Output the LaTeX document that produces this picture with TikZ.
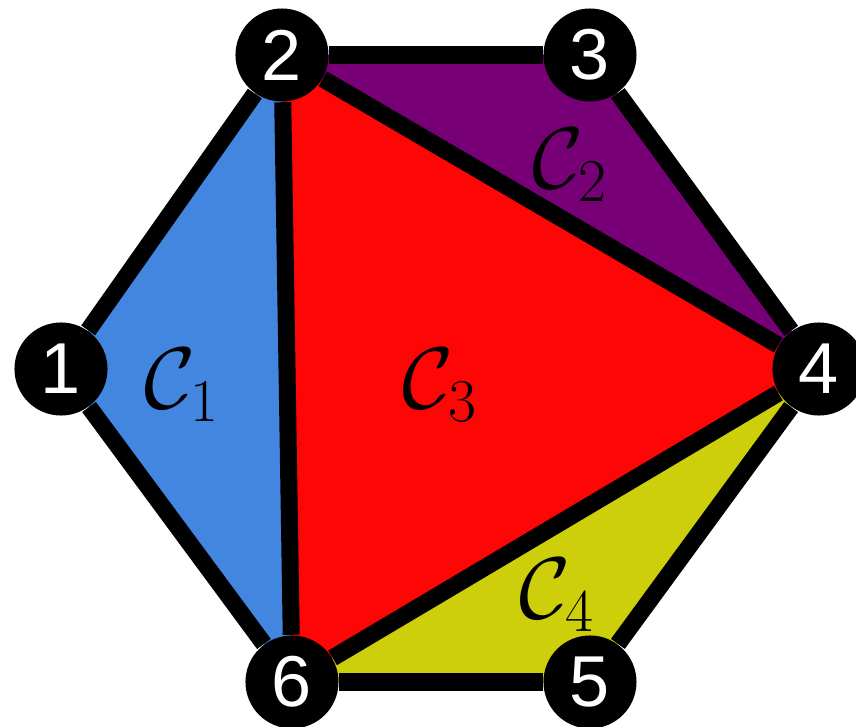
\documentclass[tikz,border=0pt]{standalone}
\usepackage{fontspec}
\newfontfamily\vertexfont{Liberation Sans}
\usepackage{tikz}
\usetikzlibrary{calc}
\pgfdeclarelayer{bg}
\pgfsetlayers{bg,main}

\definecolor{cellblue}{RGB}{67,134,224}
\definecolor{cellpurple}{RGB}{119,0,119}
\definecolor{cellred}{RGB}{255,6,6}
\definecolor{cellyellow}{RGB}{205,207,10}

\begin{document}
\begin{tikzpicture}[
    x=0.01cm,
    y=-0.01cm,
    vertex/.style={
        circle,
        fill=black,
        inner sep=0pt,
        minimum size=0.93cm,
        text=white,
        font=\vertexfont\fontsize{20.5}{24}\selectfont
    },
    link/.style={
        draw=black,
        line width=0.17cm
    },
    celllabel/.style={
        font=\fontsize{25}{30}\selectfont
    }
]
\useasboundingbox (0,0) rectangle (856,727);

% vertices
\node[vertex] (v1) at (61,369) {1};
\node[vertex] (v2) at (282,55) {2};
\node[vertex] (v3) at (590,55) {3};
\node[vertex] (v4) at (819,369) {4};
\node[vertex] (v5) at (590,682) {5};
\node[vertex] (v6) at (292,682) {6};

% labels
\node[celllabel] (c1) at (182,385) {$\mathcal{C}_1$};
\node[celllabel] (c2) at (570,165) {$\mathcal{C}_2$};
\node[celllabel] (c3) at (440,385) {$\mathcal{C}_3$};
\node[celllabel] (c4) at (557,595) {$\mathcal{C}_4$};

\begin{pgfonlayer}{bg}
% cells
\fill[cellblue] (v1.center) -- (v2.center) -- (v6.center) -- cycle;
\fill[cellpurple] (v2.center) -- (v3.center) -- (v4.center) -- cycle;
\fill[cellred] (v2.center) -- (v4.center) -- (v6.center) -- cycle;
\fill[cellyellow] (v4.center) -- (v5.center) -- (v6.center) -- cycle;

% outer edges
\draw[link] (v1) -- (v2);
\draw[link] (v2) -- (v3);
\draw[link] (v3) -- (v4);
\draw[link] (v4) -- (v5);
\draw[link] (v5) -- (v6);
\draw[link] (v6) -- (v1);

% inner edges
\draw[link] (v2) -- (v6);
\draw[link] (v2) -- (v4);
\draw[link] (v4) -- (v6);
\end{pgfonlayer}

\end{tikzpicture}
\end{document}
